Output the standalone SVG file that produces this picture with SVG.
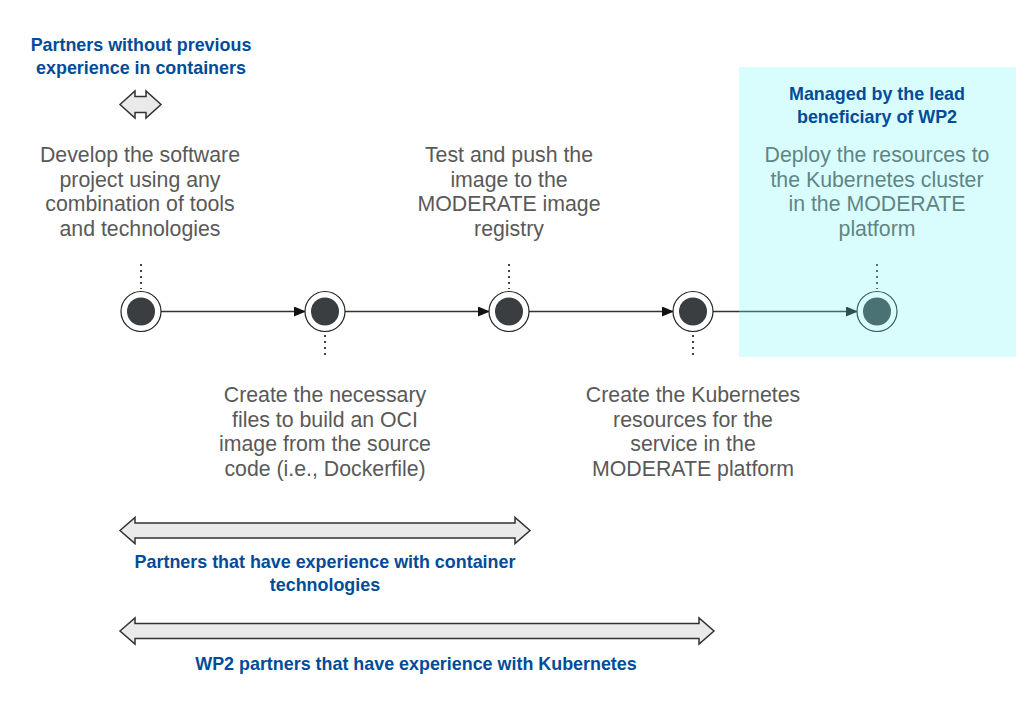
<svg xmlns="http://www.w3.org/2000/svg" width="1036" height="710" viewBox="0 0 1036 710">
<style>
.t{font-family:"Liberation Sans",Arial,Helvetica,sans-serif;font-size:21.3px;fill:#595959;text-anchor:middle}
.b{font-family:"Liberation Sans",Arial,Helvetica,sans-serif;font-size:17.9px;font-weight:bold;fill:#004C99;text-anchor:middle}
.outer{fill:#fff;stroke:#222;stroke-width:1.2}
.inner{fill:#3b3e41}
.dot{stroke:#444;stroke-width:2;stroke-dasharray:2 4;fill:none}
.conn{stroke:#333;stroke-width:1.6;fill:none}
.da{fill:#eaeaea;stroke:#333;stroke-width:1.5;stroke-linejoin:miter}
</style>
<defs>
<marker id="ah" markerWidth="12" markerHeight="10" refX="11" refY="5" orient="auto" markerUnits="userSpaceOnUse">
<path d="M0,0 L12,5 L0,10 Z" fill="#111"/>
</marker>
</defs>
<rect width="1036" height="710" fill="#fff"/>

<g id="label-top">
<text class="b" x="141" y="50.5">Partners without previous</text>
<text class="b" x="141" y="73.5">experience in containers</text>
</g>
<g id="arrow-small">
<polygon class="da" points="120,104.5 135,91 135,96.5 146,96.5 146,91 161,104.5 146,118 146,112.5 135,112.5 135,118"/>
</g>

<g id="connectors">
<line class="conn" x1="161" y1="311.5" x2="305" y2="311.5" marker-end="url(#ah)"/>
<line class="conn" x1="345" y1="311.5" x2="489" y2="311.5" marker-end="url(#ah)"/>
<line class="conn" x1="529" y1="311.5" x2="673" y2="311.5" marker-end="url(#ah)"/>
<line class="conn" x1="713" y1="311.5" x2="857" y2="311.5" marker-end="url(#ah)"/>
<line class="dot" x1="141" y1="264" x2="141" y2="289"/>
<line class="dot" x1="325" y1="335" x2="325" y2="357"/>
<line class="dot" x1="509" y1="264" x2="509" y2="289"/>
<line class="dot" x1="693" y1="335" x2="693" y2="357"/>
<line class="dot" x1="877" y1="264" x2="877" y2="289"/>
</g>

<g id="node1">
<circle class="outer" cx="141" cy="311.5" r="20"/>
<circle class="inner" cx="141" cy="311.5" r="14"/>
<text class="t" x="140" y="162">Develop the software</text>
<text class="t" x="140" y="186.5">project using any</text>
<text class="t" x="140" y="211">combination of tools</text>
<text class="t" x="140" y="235.5">and technologies</text>
</g>
<g id="node2">
<circle class="outer" cx="325" cy="311.5" r="20"/>
<circle class="inner" cx="325" cy="311.5" r="14"/>
<text class="t" x="325" y="402">Create the necessary</text>
<text class="t" x="325" y="426.5">files to build an OCI</text>
<text class="t" x="325" y="451">image from the source</text>
<text class="t" x="325" y="475.5">code (i.e., Dockerfile)</text>
</g>
<g id="node3">
<circle class="outer" cx="509" cy="311.5" r="20"/>
<circle class="inner" cx="509" cy="311.5" r="14"/>
<text class="t" x="509" y="162">Test and push the</text>
<text class="t" x="509" y="186.5">image to the</text>
<text class="t" x="509" y="211">MODERATE image</text>
<text class="t" x="509" y="235.5">registry</text>
</g>
<g id="node4">
<circle class="outer" cx="693" cy="311.5" r="20"/>
<circle class="inner" cx="693" cy="311.5" r="14"/>
<text class="t" x="693" y="402">Create the Kubernetes</text>
<text class="t" x="693" y="426.5">resources for the</text>
<text class="t" x="693" y="451">service in the</text>
<text class="t" x="693" y="475.5">MODERATE platform</text>
</g>
<g id="node5">
<circle class="outer" cx="877" cy="311.5" r="20"/>
<circle class="inner" cx="877" cy="311.5" r="14"/>
<text class="t" x="877" y="162">Deploy the resources to</text>
<text class="t" x="877" y="186.5">the Kubernetes cluster</text>
<text class="t" x="877" y="211">in the MODERATE</text>
<text class="t" x="877" y="235.5">platform</text>
</g>

<g id="wp2-box">
<rect x="739" y="67" width="277" height="290" fill="#75f8f8" fill-opacity="0.276"/>
<text class="b" x="877" y="99.5">Managed by the lead</text>
<text class="b" x="877" y="122.5">beneficiary of WP2</text>
</g>

<g id="arrow-container">
<polygon class="da" points="120,530.5 135,517.5 135,523 515,523 515,517.5 530,530.5 515,543.5 515,538 135,538 135,543.5"/>
<text class="b" x="325" y="567.5">Partners that have experience with container</text>
<text class="b" x="325" y="590.5">technologies</text>
</g>
<g id="arrow-kubernetes">
<polygon class="da" points="120,631 135,618 135,623.5 699,623.5 699,618 714,631 699,644 699,638.5 135,638.5 135,644"/>
<text class="b" x="416" y="670">WP2 partners that have experience with Kubernetes</text>
</g>
</svg>
